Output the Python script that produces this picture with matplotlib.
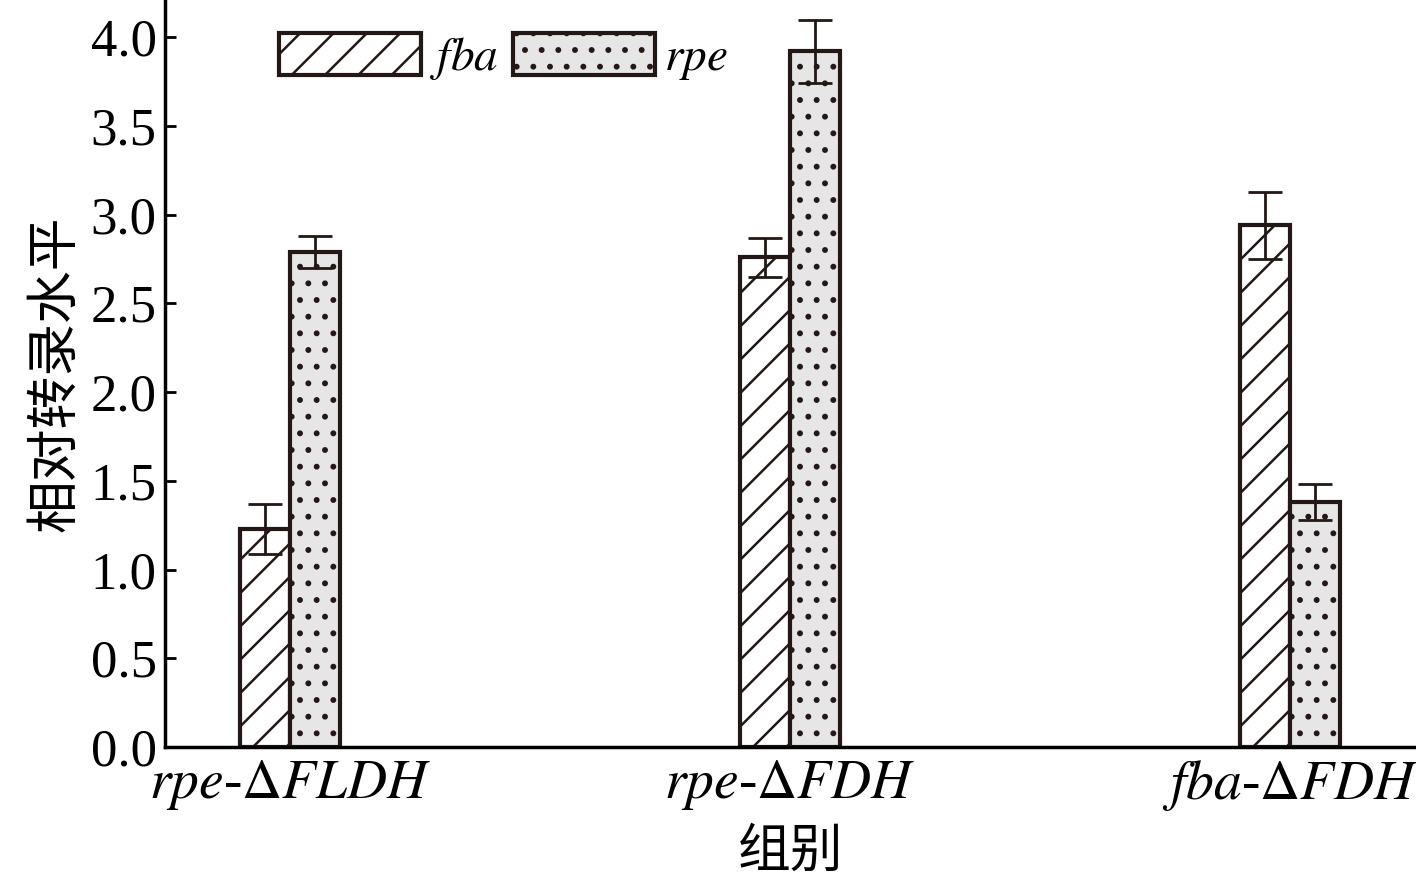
import matplotlib
matplotlib.use("Agg")
import matplotlib.pyplot as plt
import numpy as np

plt.rcParams['font.family'] = ['Liberation Serif', 'Noto Sans CJK SC']
plt.rcParams['mathtext.fontset'] = 'stix'
plt.rcParams['hatch.linewidth'] = 1.8

groups = [r'$rpe$-$\Delta FLDH$', r'$rpe$-$\Delta FDH$', r'$fba$-$\Delta FDH$']
fba = [1.23, 2.76, 2.94]
fba_err = [0.14, 0.11, 0.19]
rpe = [2.79, 3.92, 1.38]
rpe_err = [0.09, 0.18, 0.10]
yticks = [0.0, 0.5, 1.0, 1.5, 2.0, 2.5, 3.0, 3.5, 4.0]

fig = plt.figure(figsize=(14.16, 8.88), dpi=100)
ax = fig.add_axes([165/1416, 1-747/888, 1-165/1416, 747/888])
x = np.arange(len(groups))
w = 0.1
ax.bar(x - w/2, fba, w, yerr=fba_err, color='white', edgecolor='#231815', linewidth=3,
       hatch='/', capsize=12, error_kw=dict(elinewidth=2, capthick=2, ecolor='#231815'), label=r'$fba$')
ax.bar(x + w/2, rpe, w, yerr=rpe_err, color='#e6e6e6', edgecolor='#231815', linewidth=3,
       hatch='.', capsize=12, error_kw=dict(elinewidth=2, capthick=2, ecolor='#231815'), label=r'$rpe$')
ax.set_xlim(-0.25, 2.252)
ax.set_ylim(0, 4.21)
ax.set_yticks(yticks)
ax.set_yticklabels([f'{v:.1f}' for v in yticks], fontsize=38)
ax.set_xticks(x)
ax.set_xticklabels(groups, fontsize=40)
ax.tick_params(axis='x', length=0, pad=8)
ax.tick_params(axis='y', direction='in', length=8, width=2, pad=6)
for s in ['top', 'right']:
    ax.spines[s].set_visible(False)
for s in ['left', 'bottom']:
    ax.spines[s].set_linewidth(2.5)
ax.set_ylabel('相对转录水平', fontsize=38, family=['Noto Sans CJK SC'], labelpad=6)
ax.set_xlabel('组别', fontsize=38, family=['Noto Sans CJK SC'], labelpad=8)
ax.legend(loc='upper left', bbox_to_anchor=(0.065, 1.0), ncol=2, frameon=False, fontsize=34,
          handlelength=3.0, handleheight=1.0, columnspacing=0.3, handletextpad=0.2,
          borderaxespad=0.3)
fig.savefig('out.png', dpi=100)
